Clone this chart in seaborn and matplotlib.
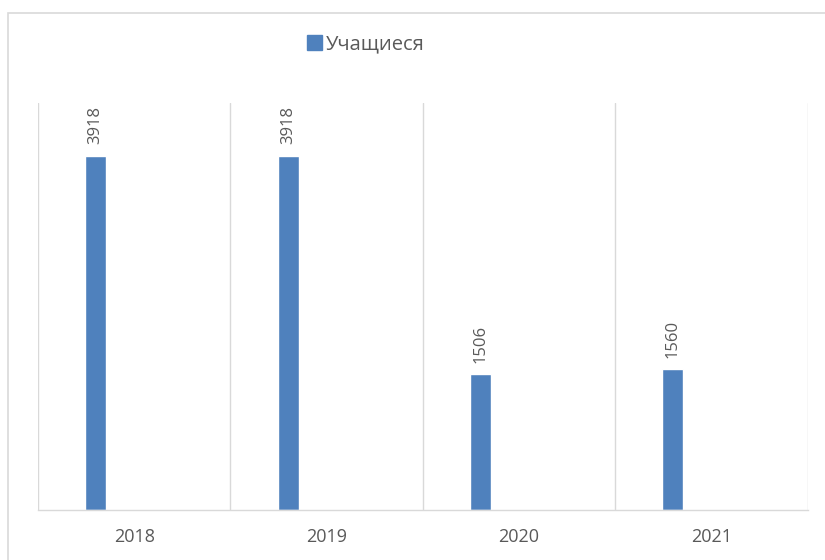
import matplotlib
matplotlib.use("Agg")
import matplotlib.pyplot as plt
import matplotlib.patches as mpatches
import pandas as pd
import seaborn as sns

years = ["2018", "2019", "2020", "2021"]
students = [3918, 3918, 1506, 1560]
series_name = "Учащиеся"

sns.set_theme(style="white")
plt.rcParams["font.family"] = ["Open Sans", "DejaVu Sans"]

df = pd.DataFrame({"pos": [i - 0.2 for i in range(len(years))], "value": students})

fig = plt.figure(figsize=(8.25, 5.6), dpi=100)
ax = fig.add_axes([0.046, 0.0893, 0.933, 0.727])

sns.barplot(data=df, x="pos", y="value", native_scale=True, width=0.109,
            color="#4f81bd", saturation=1, ax=ax)

ax.set_xlim(-0.5, len(years) - 0.5)
ax.set_ylim(0, 4500)
ax.set_yticks([])
ax.set_xticks(range(len(years)))
# spaced digits, like the original's wide letter spacing
ax.set_xticklabels(years, fontsize=13, color="#595959")
ax.tick_params(axis="x", length=0, pad=13)
ax.set_xlabel("")
ax.set_ylabel("")

for x in [i - 0.5 for i in range(len(years) + 1)]:
    ax.axvline(x, color="#d9d9d9", lw=1, zorder=0)

for s in ["top", "left", "right"]:
    ax.spines[s].set_visible(False)
ax.spines["bottom"].set_color("#d9d9d9")
ax.spines["bottom"].set_linewidth(1)

for p, v in zip(df["pos"], df["value"]):
    ax.annotate(str(v), (p, v), xytext=(0, 8), textcoords="offset points",
                rotation=90, ha="center", va="bottom", fontsize=12, color="#595959")

handle = mpatches.Patch(color="#4f81bd", label=series_name)
fig.legend(handles=[handle], loc="center", bbox_to_anchor=(0.443, 0.92),
           frameon=False, fontsize=14.5, handlelength=0.75, handleheight=0.75,
           handletextpad=0.2, labelcolor="#595959")

# chart border (only left and top edges visible in the crop)
fig.patches.append(mpatches.Rectangle((0.0097, -0.1), 1.2, 1.0768,
                                      transform=fig.transFigure, fill=False,
                                      edgecolor="#d9d9d9", lw=1.2))

fig.savefig("out.png", dpi=100)
